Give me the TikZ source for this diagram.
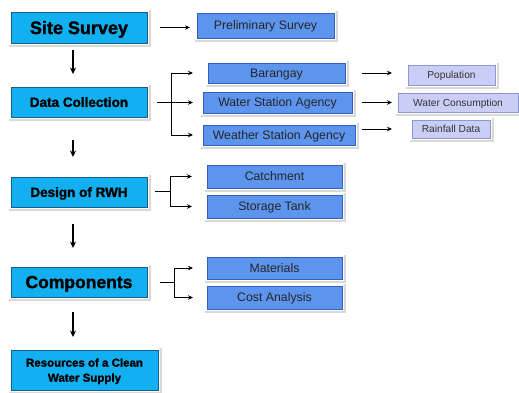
\documentclass[tikz,border=0pt]{standalone}
\usepackage{fontspec}
\setmainfont{Liberation Sans}[BoldFeatures={FakeBold=1.6}]
\usetikzlibrary{arrows.meta}

\definecolor{stagefill}{RGB}{18,176,240}
\definecolor{stageedge}{RGB}{22,92,140}
\definecolor{subfill}{RGB}{92,148,238}
\definecolor{subedge}{RGB}{48,96,186}
\definecolor{infofill}{RGB}{202,206,246}
\definecolor{infoedge}{RGB}{140,150,208}

\begin{document}
\begin{tikzpicture}[x=1pt, y=-1pt, line width=0.9pt, >={Stealth[length=5pt,width=4.5pt]},
  box/.style={rectangle, inner sep=0pt, outer sep=0pt, line width=0.6pt, align=center, text depth=0pt,
    preaction={draw=black!15, line width=6.5pt, transform canvas={xshift=1pt,yshift=-1pt}},
    preaction={draw=white, line width=4pt}},
  stage/.style={box, fill=stagefill, draw=stageedge, minimum width=136pt, minimum height=30pt, font=\bfseries},
  sub/.style={box, fill=subfill, draw=subedge, minimum height=21pt, font=\fontsize{12.3}{14}\selectfont, text=black!85},
  info/.style={box, fill=infofill, draw=infoedge, minimum height=19pt, font=\fontsize{10.2}{12}\selectfont, text=black!80},
  down/.style={->, line width=1.2pt, >={Stealth[length=6.5pt,width=6pt]}},
]
  \useasboundingbox (0,0) rectangle (519,392);
  % ---------------------------------------------------------------- main stages
  \node[stage, minimum height=31pt, font=\bfseries\fontsize{18}{20}\selectfont] (site) at (79,27.5) {Site Survey};
  \node[stage, font=\bfseries\fontsize{13.5}{15}\selectfont] (data) at (79,102) {Data Collection};
  \node[stage, font=\bfseries\fontsize{13.5}{15}\selectfont] (rwh) at (79,192) {Design of RWH};
  \node[stage, font=\bfseries\fontsize{17.5}{20}\selectfont] (comp) at (79,282) {Components};
  \node[stage, minimum width=147pt, minimum height=40pt, font=\bfseries\fontsize{11.5}{15}\selectfont] (res) at (84.5,370) {Resources of a Clean\\Water Supply};
  \draw[down, shorten <=7pt, shorten >=13pt] ([xshift=-6pt]site.south) -- ([xshift=-6pt]data.north);
  \draw[down, shorten <=23pt, shorten >=20pt] ([xshift=-6pt]data.south) -- ([xshift=-6pt]rwh.north);
  \draw[down, shorten <=17pt, shorten >=19pt] ([xshift=-6pt]rwh.south) -- ([xshift=-6pt]comp.north);
  \draw[down, shorten <=15pt, shorten >=13pt] ([xshift=-6pt]comp.south) -- ([xshift=-6pt]comp.south |- res.north);
  % ---------------------------------------------------------------- site survey
  \node[sub, minimum width=137pt, minimum height=25pt] (pre) at (265.5,25.5) {Preliminary Survey};
  \draw[->, shorten <=13pt, shorten >=7pt] (site.east) -- (site.east -| pre.west);
  % ---------------------------------------------------------------- data sources
  \node[sub, minimum width=137pt, minimum height=20pt] (brgy) at (276.5,73) {Barangay};
  \node[sub, minimum width=149pt] (wsa) at (277.5,102.5) {Water Station Agency};
  \node[sub, minimum width=152pt, minimum height=20pt] (wea) at (279,135) {Weather Station Agency};
  \coordinate (dfork) at (171,102);
  \draw[shorten <=10pt] (data.east) -- (dfork);
  \draw (dfork |- brgy.west) -- (dfork |- wea.west);
  \draw[->, shorten >=15pt] (dfork |- brgy.west) -- (brgy.west);
  \draw[->, shorten >=10pt] (dfork |- wsa.west) -- (wsa.west);
  \draw[->, shorten >=10pt] (dfork |- wea.west) -- (wea.west);
  % what each source gives
  \node[info, minimum width=87pt, minimum height=20pt] (pop) at (451.5,75) {Population};
  \node[info, minimum width=120pt] (cons) at (458,102.5) {Water Consumption};
  \node[info, minimum width=78pt, minimum height=18pt] (rain) at (451,129) {Rainfall Data};
  \draw[->, shorten <=17pt, shorten >=16pt] (brgy.east) -- (brgy.east -| pop.west);
  \draw[->, shorten <=10pt, shorten >=6pt] (wsa.east) -- (wsa.east -| cons.west);
  \draw[->, shorten <=7pt, shorten >=20pt] (wea.east |- rain.west) -- (rain.west);
  % ---------------------------------------------------------------- design of RWH
  \node[sub, minimum width=135pt, minimum height=23pt] (catch) at (274.5,176.5) {Catchment};
  \node[sub, minimum width=135pt, minimum height=23pt] (tank) at (274.5,206.5) {Storage Tank};
  \coordinate (rfork) at (170,191);
  \draw[shorten <=8pt] (rwh.east |- rfork) -- (rfork);
  \draw (rfork |- catch.west) -- (rfork |- tank.west);
  \foreach \n in {catch,tank}
    \draw[->, shorten >=15pt] (rfork |- \n.west) -- (\n.west);
  % ---------------------------------------------------------------- components
  \node[sub, minimum width=135pt, minimum height=22pt] (mat) at (274.5,268) {Materials};
  \node[sub, minimum width=135pt, minimum height=23pt] (cost) at (274.5,297.5) {Cost Analysis};
  \coordinate (cfork) at (174,282);
  \draw[shorten <=13pt] (comp.east) -- (cfork);
  \draw (cfork |- mat.west) -- (cfork |- cost.west);
  \foreach \n in {mat,cost}
    \draw[->, shorten >=14pt] (cfork |- \n.west) -- (\n.west);
\end{tikzpicture}
\end{document}
